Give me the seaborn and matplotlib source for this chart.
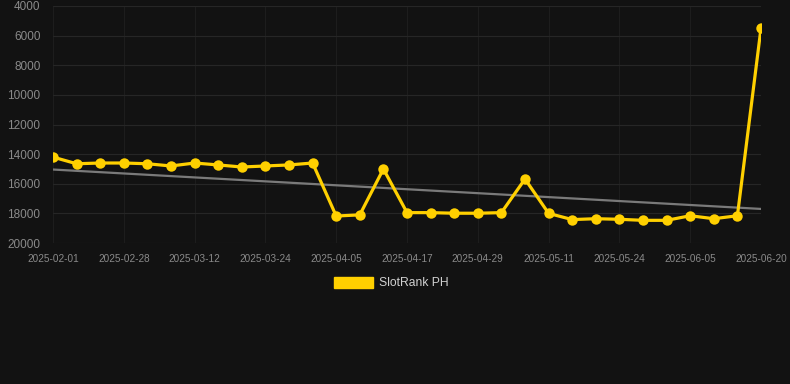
import pandas as pd
import matplotlib
matplotlib.use("Agg")
import matplotlib.pyplot as plt
import matplotlib.patches as mpatches
import seaborn as sns

# Chart data
dates = ["2025-02-01", "2025-02-10", "2025-02-19", "2025-02-28", "2025-03-04",
         "2025-03-08", "2025-03-12", "2025-03-16", "2025-03-20", "2025-03-24",
         "2025-03-28", "2025-04-01", "2025-04-05", "2025-04-09", "2025-04-13",
         "2025-04-17", "2025-04-21", "2025-04-25", "2025-04-29", "2025-05-03",
         "2025-05-07", "2025-05-11", "2025-05-15", "2025-05-20", "2025-05-24",
         "2025-05-28", "2025-06-01", "2025-06-05", "2025-06-10", "2025-06-15",
         "2025-06-20"]
rank = [14200, 14650, 14600, 14600, 14650, 14800, 14600, 14730, 14870, 14800,
        14730, 14600, 18180, 18100, 15000, 17950, 17950, 17990, 17990, 17950,
        15680, 18000, 18420, 18360, 18400, 18470, 18470, 18160, 18360, 18160,
        5500]
trend_dates = [dates[0], dates[-1]]
trend_vals = [15040, 17700]
y_ticks = [4000, 6000, 8000, 10000, 12000, 14000, 16000, 18000, 20000]
series_name = "SlotRank PH"

bg = "#121212"
yellow = "#FFD000"

sns.set_theme(style="dark")
plt.rcParams['font.family'] = ['Liberation Sans', 'DejaVu Sans']

fig = plt.figure(figsize=(7.9, 3.84), dpi=100, facecolor=bg)
ax = fig.add_axes([53 / 790, 1 - 243 / 384, 708 / 790, 237 / 384])
ax.set_facecolor(bg)

df = pd.DataFrame({"date": dates, "rank": rank})
trend = pd.DataFrame({"date": trend_dates, "rank": trend_vals})

sns.lineplot(data=df, x="date", y="rank", ax=ax, color=yellow, lw=2.3,
             marker="o", markersize=7.5, markeredgewidth=0, sort=False, zorder=3)
sns.lineplot(data=trend, x="date", y="rank", ax=ax, color="#7a7a7a", lw=1.6,
             sort=False, zorder=2)

# axes styling
ax.set_xlim(0, len(dates) - 1)
ax.set_ylim(20000, 4000)
ax.set_yticks(y_ticks)
ax.set_yticklabels([str(v) for v in y_ticks], fontsize=8.5, color="#8a8a8a")
tick_pos = list(range(0, len(dates), 3))
ax.set_xticks(tick_pos)
ax.set_xticklabels([dates[i] for i in tick_pos], fontsize=7.2, color="#8a8a8a")
ax.tick_params(axis="x", length=4, color="#1e1e1e", pad=4)
ax.tick_params(axis="y", length=0, pad=9)
ax.xaxis.grid(True, color="#1d1d1d", lw=0.8)
ax.yaxis.grid(True, color="#262626", lw=0.8)
for s in ax.spines.values():
    s.set_visible(False)
ax.set_xlabel("")
ax.set_ylabel("")

handle = mpatches.Patch(color=yellow, label=series_name)
fig.legend(handles=[handle], loc="center", bbox_to_anchor=(391 / 790, 1 - 283 / 384),
           frameon=False, fontsize=8.7, labelcolor="#d0d0d0",
           handlelength=3.3, handleheight=1.0, handletextpad=0.45)

fig.savefig("out.png", dpi=100, facecolor=bg)
